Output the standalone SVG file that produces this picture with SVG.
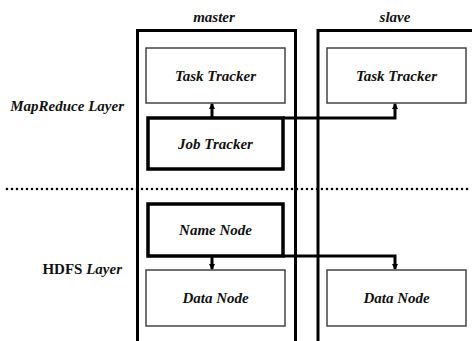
<svg xmlns="http://www.w3.org/2000/svg" width="472" height="341" viewBox="0 0 472 341">
<style>
text{font-family:"Liberation Serif","Times New Roman",serif;font-weight:bold;font-style:italic;font-size:15px;fill:#111}
.c{text-anchor:middle}
.r{text-anchor:end}
.up{font-style:normal}
.thin{fill:#fff;stroke:#444;stroke-width:1.5}
.thick{fill:#fff;stroke:#000;stroke-width:3.5}
.outer{fill:none;stroke:#000;stroke-width:3}
.conn{fill:none;stroke:#000;stroke-width:3}
.dots{fill:none;stroke:#000;stroke-width:2.6;stroke-linecap:round;stroke-dasharray:0 5}
</style>
<defs>
<marker id="ah" markerWidth="6" markerHeight="6" refX="5" refY="3" orient="auto" markerUnits="userSpaceOnUse">
<path d="M0,0 L6,3 L0,6 Z" fill="#000"/>
</marker>
</defs>
<rect width="472" height="341" fill="#fff"/>
<g id="layers">
<text class="r" x="124" y="111">MapReduce Layer</text>
<text class="r" x="122" y="274"><tspan class="up">HDFS</tspan> Layer</text>
<line class="dots" x1="7" y1="189" x2="472" y2="189"/>
</g>
<g id="master">
<path class="outer" d="M137.5,345 V30.5 H295.5 V345"/>
<text class="c" x="214" y="22">master</text>
</g>
<g id="slave">
<path class="outer" d="M318,345 V30.5 H475"/>
<text class="c" x="395" y="22">slave</text>
</g>
<g id="master-task-tracker">
<rect class="thin" x="146" y="48" width="139" height="55"/>
<text class="c" x="215.5" y="81">Task Tracker</text>
</g>
<g id="slave-task-tracker">
<rect class="thin" x="327" y="48" width="139" height="55"/>
<text class="c" x="396.5" y="81">Task Tracker</text>
</g>
<g id="job-tracker">
<rect class="thick" x="148" y="118" width="135" height="51"/>
<text class="c" x="215.5" y="149">Job Tracker</text>
</g>
<g id="name-node">
<rect class="thick" x="148" y="204" width="135" height="52"/>
<text class="c" x="215.5" y="235">Name Node</text>
</g>
<g id="master-data-node">
<rect class="thin" x="146" y="270" width="139" height="56"/>
<text class="c" x="215.5" y="303">Data Node</text>
</g>
<g id="slave-data-node">
<rect class="thin" x="327" y="270" width="139" height="56"/>
<text class="c" x="396.5" y="303">Data Node</text>
</g>
<g id="connectors">
<line class="conn" x1="212" y1="118" x2="212" y2="104" marker-end="url(#ah)"/>
<path class="conn" d="M283,118 H395 V104" marker-end="url(#ah)"/>
<line class="conn" x1="212" y1="256" x2="212" y2="269" marker-end="url(#ah)"/>
<path class="conn" d="M283,256 H395 V269" marker-end="url(#ah)"/>
</g>
</svg>
